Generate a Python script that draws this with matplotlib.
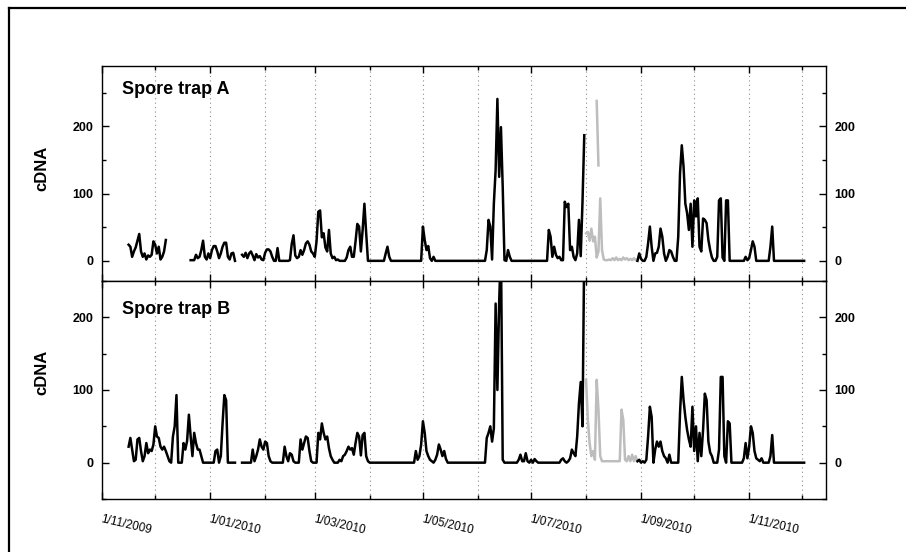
import numpy as np
import pandas as pd
import matplotlib
matplotlib.use("Agg")
import matplotlib.pyplot as plt
import matplotlib.dates as mdates
from matplotlib.ticker import MultipleLocator
from matplotlib.lines import Line2D

plt.rcParams['font.family'] = ['Liberation Sans', 'DejaVu Sans']

nan = np.nan
start = "2009-11-01"

# daily cDNA, trap A (black = main record, gaps where no sample)
trap_a = ([nan] * 15
          + [24, 21, 6, 14, 20, 30, 40, 14, 6, 11, 2, 8, 6, 9, 29, 24, 11, 21, 2, 6, 14, 31]
          + [nan] * 13
          + [1, 1, 1, 9, 4, 6, 16, 30, 6, 2, 11, 4, 16, 22, 22, 14, 4, 11, 21, 27, 27, 6, 2, 11, 12, 0]
          + [nan] * 3
          + [9, 6, 12, 4, 11, 14, 8, 1, 10, 5, 7, 2, 1, 12, 17, 17, 14, 6, 0, 0, 19]
          + [0] * 6
          + [1, 25, 38, 8, 4, 6, 16, 9, 16, 26, 29, 24, 14, 11, 6, 29, 73, 75, 35, 41,
             20, 14, 46, 11, 4, 6, 1, 2]
          + [0] * 4
          + [5, 16, 21, 6, 6, 29, 55, 51, 14, 46, 85, 41]
          + [0] * 10
          + [11, 21, 6]
          + [0] * 18
          + [51, 31, 16, 22, 4, 0, 6]
          + [0] * 29
          + [16, 61, 51, 2, 85, 135, 241, 125, 199, 110, 1, 0, 16, 6]
          + [0] * 21
          + [46, 36, 6, 21, 9, 4, 6, 1, 1, 88, 80, 85, 16, 21, 6, 1, 11, 61, 7, 88, 187]
          + [nan] * 29
          + [0, 11, 3, 0, 0, 6, 26, 51, 21, 0, 11, 12, 21, 48, 36, 11, 0, 6, 16, 14,
             6, 0, 0, 36, 130, 172, 140, 85, 71, 46, 85, 21, 90, 66, 93, 21, 14, 63, 61, 56,
             31, 16, 5, 0, 0, 6, 90, 93, 5, 0, 90, 90]
          + [0] * 9
          + [6, 1, 4, 16, 29, 21]
          + [0] * 8
          + [21, 51]
          + [0] * 18)

trap_b = ([nan] * 15
          + [22, 34, 18, 2, 4, 32, 34, 16, 2, 9, 27, 13, 18, 16, 25, 50, 36, 34, 22, 18,
             22, 16, 9, 2, 0, 36, 50, 93]
          + [0, 0, 0]
          + [27, 18, 30, 66, 36, 9, 41, 27, 18, 18, 9]
          + [0] * 7
          + [16, 18, 0, 9, 54, 93, 86]
          + [0] * 5
          + [nan] * 3
          + [0] * 6
          + [18, 2, 9, 18, 32, 22, 18, 29, 27, 9, 2]
          + [0] * 7
          + [22, 9, 2, 13, 11, 2]
          + [0] * 3
          + [32, 18, 27, 36, 34, 16, 2]
          + [0] * 3
          + [41, 32, 54, 41, 32, 36, 20, 9, 4]
          + [0] * 3
          + [4, 2, 9, 11, 16, 22, 18, 20, 11, 27, 41, 36, 10, 38, 41, 9, 2]
          + [0] * 26
          + [16, 4, 9, 25, 57, 41, 16, 9, 4, 2, 0, 4, 11, 25, 18, 9, 16, 5]
          + [0] * 22
          + [34, 41, 50, 29, 47, 219, 100, 221, 300, 4]
          + [0] * 8
          + [4, 11, 2, 2, 13, 2, 0, 4, 0, 5, 2]
          + [0] * 13
          + [4, 6, 2, 0, 2, 6, 18, 13, 9, 36, 82, 111, 50, 300]
          + [nan] * 29
          + [2, 4, 0, 2, 0, 4, 36, 77, 63, 0, 18, 29, 22, 29, 16, 9, 6, 0, 11]
          + [0] * 5
          + [68, 118, 86, 63, 45, 32, 22, 77, 16, 50, 2, 41, 9, 45, 95, 86, 29, 14, 9]
          + [0] * 3
          + [18, 118, 118, 9, 0, 57, 54]
          + [0] * 7
          + [6, 27, 6, 22, 50, 41, 16, 6, 4, 2, 6]
          + [0] * 4
          + [9, 38]
          + [0] * 18)

# August 2010 values shown in grey
grey_start = "2010-08-01"
grey_a = [41, 43, 30, 48, 29, 36, 5, 14, 93, 16, 2, 1, 1, 2, 1, 4, 1, 5, 1, 3,
          1, 5, 2, 4, 1, 3, 1, 4, 1, 2]
grey_a_spike_dates = ["2010-08-07", "2010-08-08"]
grey_a_spike = [238, 142]
grey_b = [114, 60, 27, 9, 16, 4, 114, 73, 9, 2] + [2] * 10 + [73, 59, 4, 2, 9, 2, 11, 2, 9, 2]

panel_titles = ["Spore trap A", "Spore trap B"]

days = pd.date_range(start, periods=len(trap_a), freq="D")
grey_days = pd.date_range(grey_start, periods=len(grey_a), freq="D")

W, H = 906, 552
fig = plt.figure(figsize=(W / 100, H / 100), dpi=100)

x0, x1 = 102, 826
ax_a = fig.add_axes([x0 / W, 1 - 281 / H, (x1 - x0) / W, 215 / H])
ax_b = fig.add_axes([x0 / W, 1 - 499 / H, (x1 - x0) / W, 218 / H])

grey = "#bdbdbd"
lw = 1.8
ax_a.plot(days, np.array(trap_a, dtype=float), color="black", lw=lw, zorder=3)
ax_a.plot(grey_days, grey_a, color=grey, lw=lw, zorder=2)
ax_a.plot(pd.to_datetime(grey_a_spike_dates), grey_a_spike, color=grey, lw=lw, zorder=2)
ax_b.plot(days, np.array(trap_b, dtype=float), color="black", lw=lw, zorder=3)
ax_b.plot(grey_days, grey_b, color=grey, lw=lw, zorder=2)

ax_a.set_ylim(-30, 290)
ax_b.set_ylim(-50, 250)

for ax, title in zip([ax_a, ax_b], panel_titles):
    ax.set_xlim(pd.Timestamp("2009-11-01"), pd.Timestamp("2010-12-14 08:00"))
    ax.xaxis.set_major_locator(mdates.MonthLocator(bymonth=[1, 3, 5, 7, 9, 11]))
    ax.xaxis.set_minor_locator(mdates.MonthLocator())
    ax.xaxis.set_major_formatter(mdates.DateFormatter("1/%m/%Y"))
    ax.set_yticks([0, 100, 200])
    ax.yaxis.set_minor_locator(MultipleLocator(50))
    ax.grid(True, which="both", axis="x", color="#8c8c8c", lw=0.8,
            linestyle=(0, (1, 3)), zorder=1)
    ax.tick_params(which="both", direction="in", top=True, bottom=True,
                   left=True, right=True, labelright=True, color="black")
    ax.tick_params(which="major", length=5, width=1, pad=6)
    ax.tick_params(which="minor", length=3, width=1)
    for lab in ax.get_yticklabels():
        lab.set_fontweight("bold")
        lab.set_fontsize(9)
    for sp in ax.spines.values():
        sp.set_linewidth(1.0)
    ax.text(0.028, 0.87 if ax is ax_a else 0.85, title, transform=ax.transAxes,
            fontsize=13, fontweight="bold", va="baseline", ha="left")

ax_a.tick_params(axis="x", labelbottom=False)
for lab in ax_b.get_xticklabels():
    lab.set_rotation(-13)
    lab.set_ha("left")
    lab.set_va("top")
    lab.set_rotation_mode("anchor")
    lab.set_fontsize(8.5)
ax_b.tick_params(axis="x", pad=10)

fig.text(42 / W, 1 - 168 / H, "cDNA", rotation=90, fontsize=12, fontweight="bold",
         ha="center", va="center")
fig.text(42 / W, 1 - 372 / H, "cDNA", rotation=90, fontsize=12, fontweight="bold",
         ha="center", va="center")

# outer frame
fig.add_artist(Line2D([9 / W, 1], [1 - 8 / H, 1 - 8 / H], transform=fig.transFigure,
                      color="black", lw=1.6))
fig.add_artist(Line2D([9 / W, 9 / W], [0, 1 - 8 / H], transform=fig.transFigure,
                      color="black", lw=1.6))

fig.savefig("out.png", dpi=100)
